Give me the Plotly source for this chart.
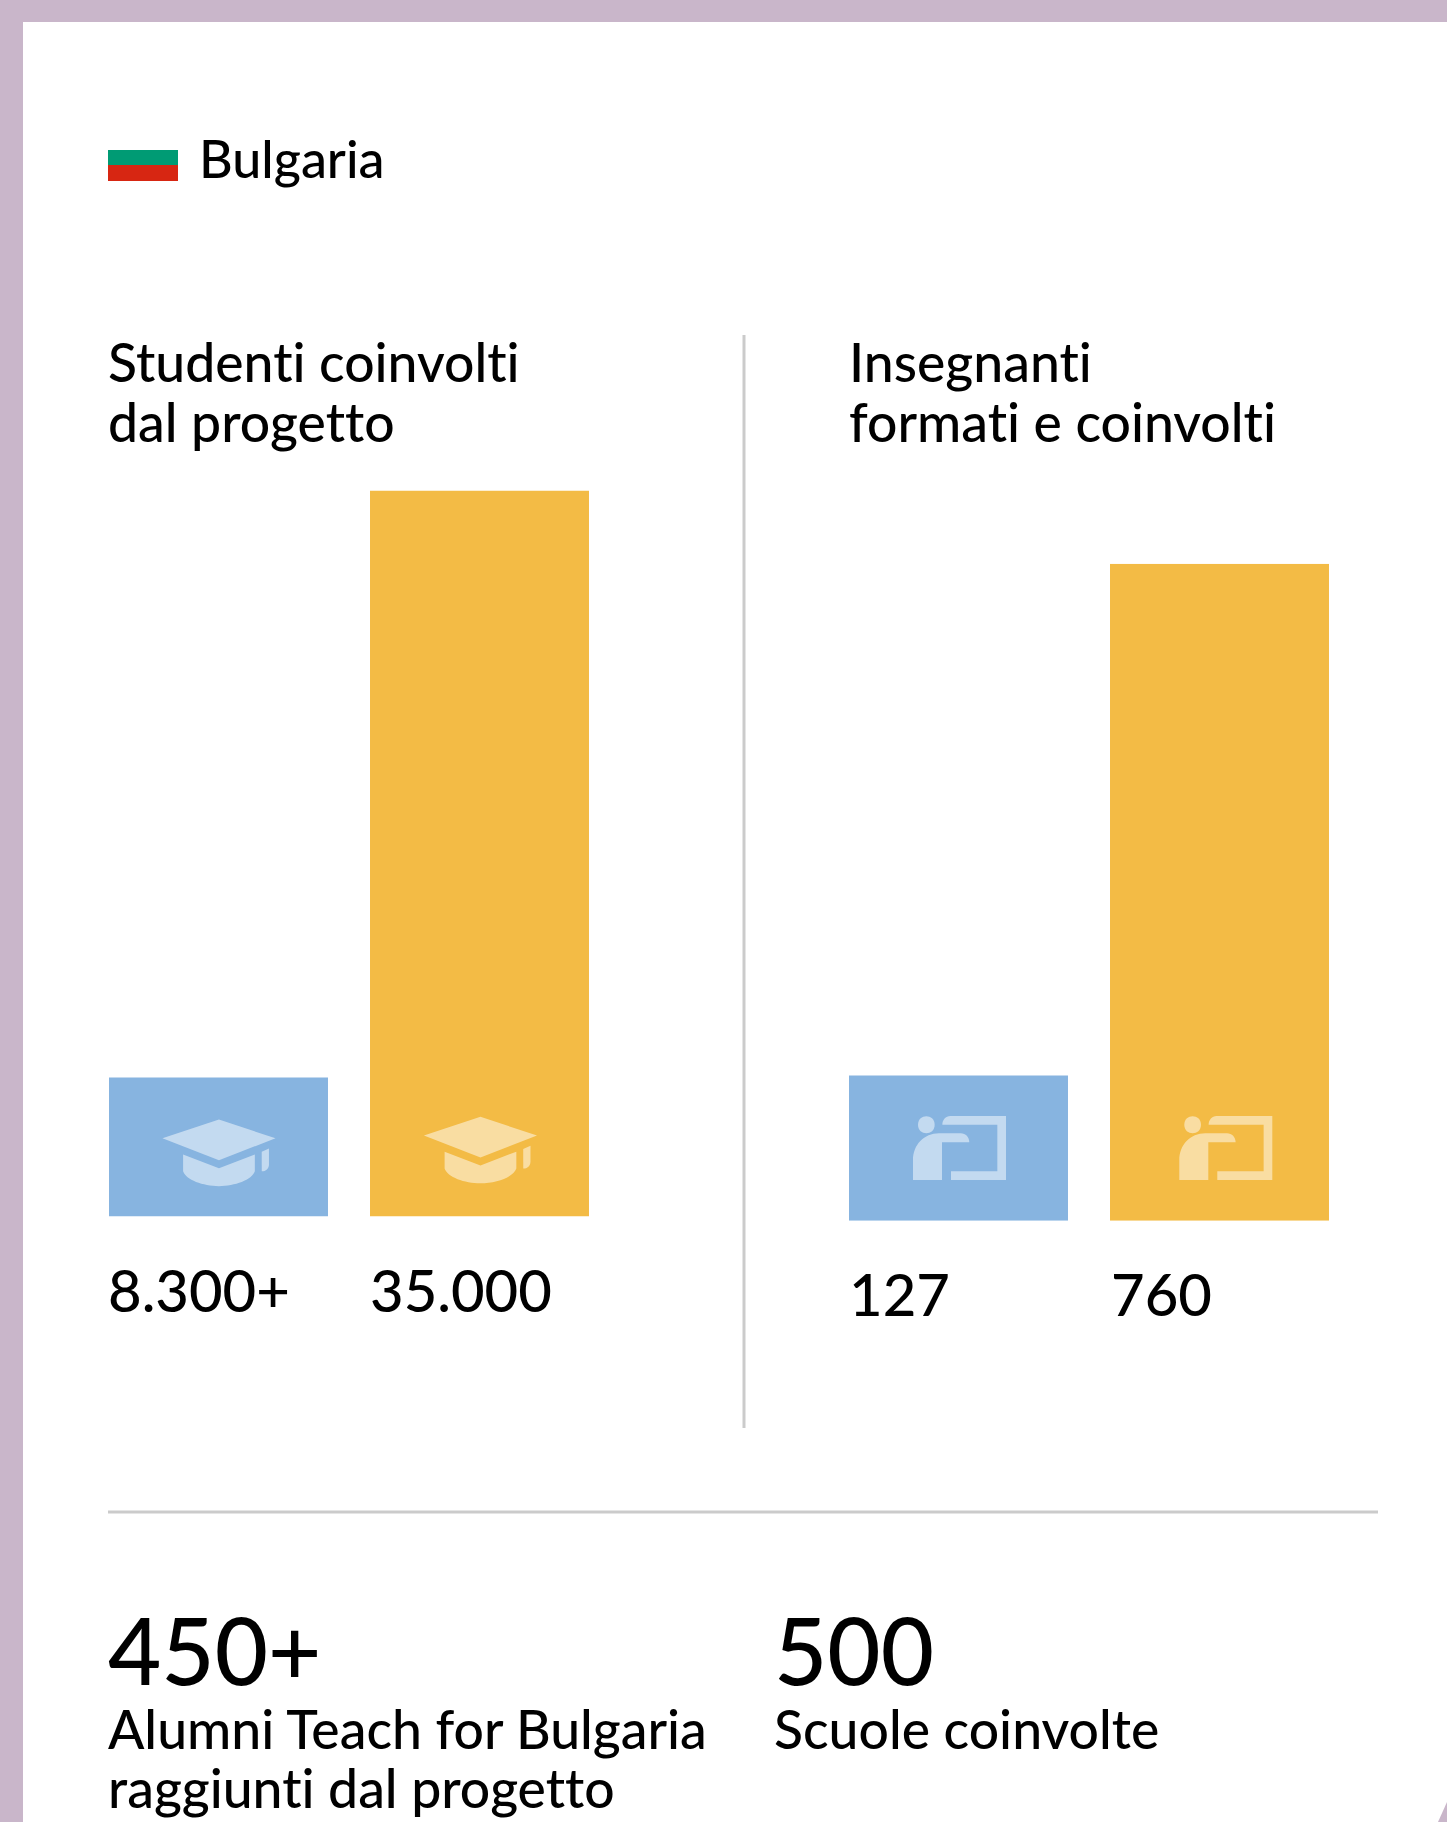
import plotly.graph_objects as go

W = 1447
H = 1822

FRAME = "#C9B6CA"
BLUE = "#87B4E0"
YELLOW = "#F3BB45"
GREY = "#CBCBCB"
FONT = "Lato"

# bar heights as drawn; the artwork is not proportional to the printed labels
student_categories = ["a", "b"]
student_values = [6700, 35000]
student_labels = ["8.300+", "35.000"]
teacher_categories = ["a", "b"]
teacher_values = [168, 760]
teacher_labels = ["127", "760"]


def px(x):
    return x / W


def py(y):
    return 1 - y / H


def to_path(points, x0, y0, scale):
    # icon outlines were measured on the zoomed crops
    parts = []
    for cmd, *xy in points:
        coords = [f"{px(x0 + xy[i] / scale):.5f},{py(y0 + xy[i + 1] / scale):.5f}" for i in range(0, len(xy), 2)]
        if cmd == "C":
            parts.append("C" + " ".join(coords))
        else:
            parts.extend(cmd + c for c in coords)
    return " ".join(parts) + " Z"


def icon_shape(path):
    return dict(type="path", xref="paper", yref="paper", path=path, fillcolor="white", opacity=0.5, line_width=0, layer="above")


def rect(x0, y0, x1, y1, color):
    return dict(type="rect", xref="paper", yref="paper", x0=px(x0), x1=px(x1), y0=py(y0), y1=py(y1), fillcolor=color, line_width=0, layer="below")


def label(x, y, text, size):
    return dict(
        xref="paper", yref="paper", x=px(x), y=py(y), text=text, showarrow=False,
        xanchor="left", yanchor="middle", align="left",
        font=dict(family=FONT, size=size, color="#000000", weight=500),
    )


CAP = [
    [("M", 210, 264), ("L", 374, 210, 538, 264, 374, 328)],
    [("M", 270, 311), ("L", 374, 351, 478, 311, 478, 360), ("C", 470, 385, 420, 403, 374, 403), ("C", 328, 403, 278, 385, 270, 360)],
    [("M", 498, 303), ("L", 519, 294, 519, 340), ("C", 519, 352, 510, 360, 498, 360)],
]
TEACHER = [
    [("M", 252, 390), ("L", 252, 330), ("C", 252, 285, 285, 250, 330, 250), ("L", 395, 250), ("C", 410, 250, 421, 262, 421, 277), ("L", 339, 277, 339, 390)],
    [("M", 340, 224), ("C", 340, 210, 350, 198, 364, 198), ("L", 531, 198, 531, 390, 366, 390, 366, 364, 505, 364, 505, 224)],
    [("M", 267, 224), ("C", 267, 190, 317, 190, 317, 224), ("C", 317, 258, 267, 258, 267, 224)],
]

fig = go.Figure()

fig.add_trace(go.Bar(
    x=student_categories, y=student_values, marker_color=[BLUE, YELLOW], marker_line_width=0,
    xaxis="x", yaxis="y", showlegend=False, hoverinfo="skip",
))
fig.add_trace(go.Bar(
    x=teacher_categories, y=teacher_values, marker_color=[BLUE, YELLOW], marker_line_width=0,
    xaxis="x2", yaxis="y2", showlegend=False, hoverinfo="skip",
))

shapes = [
    rect(0, 0, W, 22, FRAME),
    rect(0, 0, 23, H, FRAME),
    rect(108, 150, 178, 165, "#009B74"),
    rect(108, 165, 178, 181, "#D72612"),
    dict(type="path", xref="paper", yref="paper", fillcolor=FRAME, line_width=0, layer="below",
         path=f"M{px(1438)},{py(H)} L{px(W)},{py(1802)} L{px(W)},{py(H)} Z"),
    dict(type="line", xref="paper", yref="paper", x0=px(744), x1=px(744), y0=py(335), y1=py(1428), line=dict(color=GREY, width=3)),
    dict(type="line", xref="paper", yref="paper", x0=px(108), x1=px(1378), y0=py(1512), y1=py(1512), line=dict(color=GREY, width=3)),
]
for outline in CAP:
    shapes.append(icon_shape(to_path(outline, 90, 1047.2, 2.9)))
    shapes.append(icon_shape(to_path(outline, 351.5, 1044.4, 2.9)))
for outline in TEACHER:
    shapes.append(icon_shape(to_path(outline, 829, 1050, 3)))
    shapes.append(icon_shape(to_path(outline, 1095.3, 1050, 3)))

annotations = [
    label(197, 157.5, "Bulgaria", 52),
    label(106, 361.5, "Studenti coinvolti", 53.5),
    label(106, 420.5, "dal progetto", 53.5),
    label(847, 361.5, "Insegnanti", 53.5),
    label(847, 420.5, "formati e coinvolti", 53.5),
    label(106, 1289.5, student_labels[0], 58),
    label(368, 1289.5, student_labels[1], 58),
    label(847, 1293.5, teacher_labels[0], 58),
    label(1109, 1293.5, teacher_labels[1], 58),
    label(106, 1649.5, "450+", 92),
    label(772, 1649.5, "500", 92),
    label(106, 1727.5, "Alumni Teach for Bulgaria", 53.5),
    label(106, 1786.5, "raggiunti dal progetto", 53.5),
    label(772, 1727.5, "Scuole coinvolte", 53.5),
]

fig.update_layout(
    width=W,
    height=H,
    margin=dict(l=0, r=0, t=0, b=0),
    paper_bgcolor="white",
    plot_bgcolor="rgba(0,0,0,0)",
    bargap=0.161,
    shapes=shapes,
    annotations=annotations,
    xaxis=dict(domain=[px(88), px(610)], range=[-0.5, 1.5], visible=False),
    yaxis=dict(domain=[py(1216.5), py(490.5)], range=[0, 35000], visible=False),
    xaxis2=dict(domain=[px(828), px(1350)], range=[-0.5, 1.5], visible=False, anchor="y2"),
    yaxis2=dict(domain=[py(1220.7), py(563.7)], range=[0, 760], visible=False, anchor="x2"),
)

# no ligatures: the reference sets "tt" and "ti" as separate letters
page_style = (
    "document.body.style.margin='0';document.body.style.overflow='hidden';"
    "var s=document.createElement('style');"
    "s.textContent='text{font-variant-ligatures:none !important;font-feature-settings:\"liga\" 0 !important}';"
    "document.head.appendChild(s);"
)
fig.write_html("out.html", config={"displayModeBar": False}, post_script=page_style)
